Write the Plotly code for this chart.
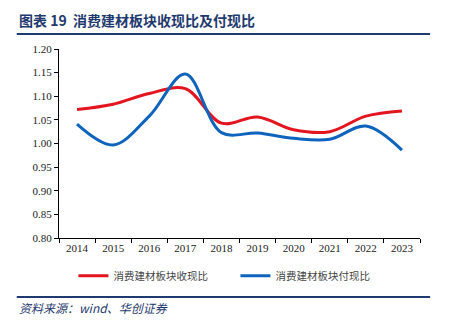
import plotly.graph_objects as go

years = ["2014", "2015", "2016", "2017", "2018", "2019", "2020", "2021", "2022", "2023"]
cash_in_ratio = [1.072, 1.083, 1.106, 1.116, 1.043, 1.056, 1.029, 1.025, 1.058, 1.069]
cash_out_ratio = [1.041, 0.997, 1.058, 1.147, 1.023, 1.022, 1.011, 1.009, 1.037, 0.986]
y_ticks = [0.80, 0.85, 0.90, 0.95, 1.00, 1.05, 1.10, 1.15, 1.20]

serif = "Liberation Serif, serif"
cjk = "Noto Sans CJK SC, sans-serif"
navy = "#1F3A6E"

fig = go.Figure()
fig.add_trace(go.Scatter(x=years, y=cash_in_ratio, mode="lines", name="消费建材板块收现比",
                         line=dict(color="#E3151E", width=3, shape="spline", smoothing=1.0)))
fig.add_trace(go.Scatter(x=years, y=cash_out_ratio, mode="lines", name="消费建材板块付现比",
                         line=dict(color="#0E63BC", width=3, shape="spline", smoothing=1.0)))

fig.update_layout(
    width=450, height=324,
    margin=dict(l=59, r=30, t=49, b=86),
    paper_bgcolor="white", plot_bgcolor="white",
    font=dict(family=serif, size=11, color="#222"),
    showlegend=True,
    legend=dict(orientation="h", x=0.04, xanchor="left", y=-0.20, yanchor="middle",
                entrywidth=117, entrywidthmode="pixels", bgcolor="rgba(0,0,0,0)",
                font=dict(family=cjk, size=10.5, color="#444")),
    xaxis=dict(type="category", showline=True, linecolor="black", linewidth=1,
               ticks="outside", ticklen=4, tickcolor="black", tickson="boundaries",
               showgrid=False, tickfont=dict(family=serif, size=11, color="#222"),
               range=[-0.5, 9.5]),
    yaxis=dict(range=[0.80, 1.20], tickvals=y_ticks, ticktext=[f"{v:.2f}" for v in y_ticks],
               showline=True, linecolor="black", linewidth=1, ticks="outside", ticklen=4,
               tickcolor="black", showgrid=False, zeroline=False,
               tickfont=dict(family=serif, size=11, color="#222")),
)

fig.add_annotation(text="<b>图表 19  消费建材板块收现比及付现比</b>", xref="paper", yref="paper",
                   x=-0.117, y=1.155, xanchor="left", yanchor="middle", showarrow=False,
                   font=dict(family=cjk, size=14, color=navy))
fig.add_shape(type="line", xref="paper", yref="paper", x0=-0.117, x1=1.028, y0=1.079, y1=1.079,
              line=dict(color=navy, width=2))
fig.add_shape(type="line", xref="paper", yref="paper", x0=-0.117, x1=1.028, y0=-0.312, y1=-0.312,
              line=dict(color=navy, width=2))
fig.add_annotation(text="<i>资料来源：wind、华创证券</i>", xref="paper", yref="paper",
                   x=-0.117, y=-0.37, xanchor="left", yanchor="middle", showarrow=False,
                   font=dict(family=cjk, size=12, color=navy))

fig.write_html("out.html")
